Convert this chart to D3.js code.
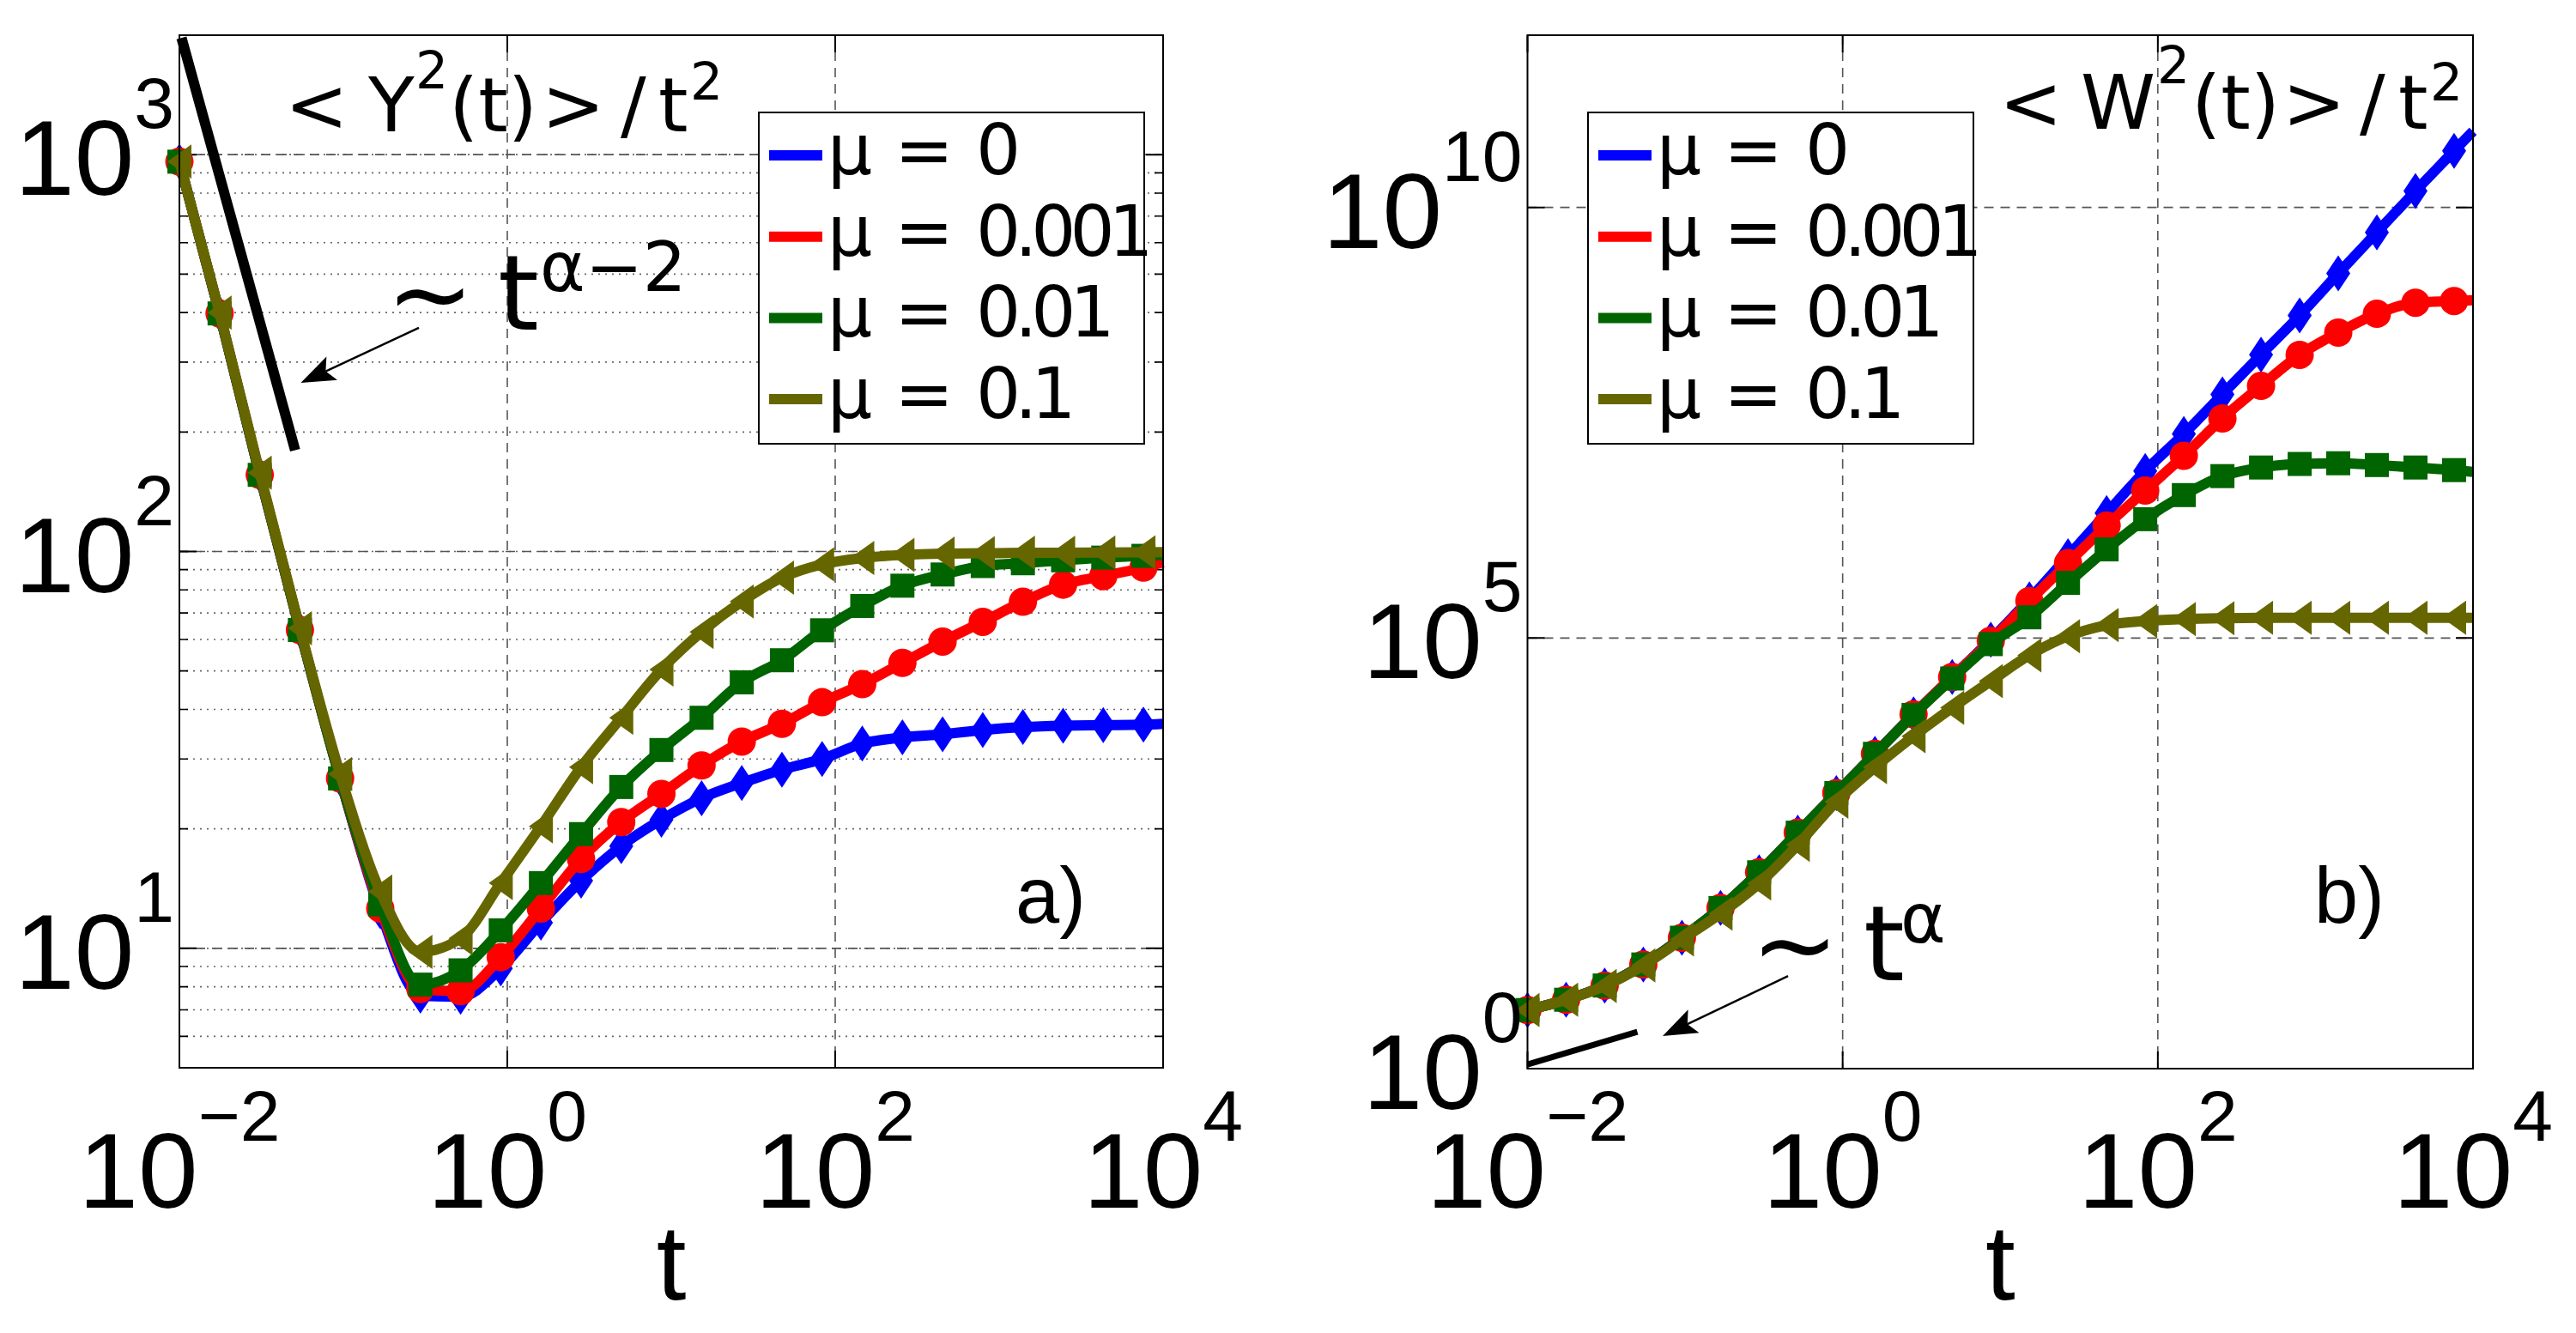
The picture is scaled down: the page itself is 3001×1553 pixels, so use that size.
<!DOCTYPE html>
<html><head><meta charset="utf-8">
<script src="https://cdn.jsdelivr.net/npm/d3@7"></script>
<style>body{margin:0;background:#fff}svg{display:block}</style>
</head><body>
<svg id="c" width="3001" height="1553"></svg>
<script>
// ---------------- data ----------------
const tValues = [0.01, 0.01758, 0.0309, 0.05433, 0.0955, 0.1679, 0.2951, 0.5188, 0.912, 1.603, 2.818, 4.955, 8.71, 15.31, 26.92, 47.32, 83.18, 146.2, 257.0, 451.9, 794.3, 1396, 2455, 4315, 7586, 10000];
const markerCount = 25; // last t value carries the line only

const seriesLabels = ["μ = 0", "μ = 0.001", "μ = 0.01", "μ = 0.1"];
const seriesColors = ["#0000ff", "#ff0000", "#006400", "#666600"];
const seriesMarkers = ["diamond", "circle", "square", "triangleLeft"];

// panel a) <Y^2(t)>/t^2
const yA_mu0    = [960, 398, 156, 63.4, 26.8, 12.4, 7.6, 7.55, 8.9, 11.6, 14.8, 18.1, 21.1, 23.9, 26.1, 28.2, 30.0, 32.8, 34.0, 34.6, 35.5, 36.1, 36.4, 36.5, 36.6, 36.8];
const yA_mu0001 = [960, 398, 156, 63.4, 26.8, 12.6, 7.9, 7.8, 9.5, 12.6, 16.8, 20.8, 24.5, 28.9, 33.2, 36.8, 41.7, 46.3, 52.4, 59.3, 66.5, 74.7, 82.5, 86.7, 91.1, 94];
const yA_mu001  = [960, 398, 156, 63.4, 26.8, 12.9, 8.1, 8.8, 11.1, 14.6, 19.4, 25.5, 31.6, 38.1, 46.8, 53.2, 63.3, 72.9, 82, 87.5, 91.9, 93.4, 95, 96.5, 97.5, 98];
const yA_mu01   = [960, 400, 158, 64, 27.5, 13.9, 9.8, 10.6, 14.6, 20.3, 28.6, 38.1, 50.4, 62.7, 74.8, 85.9, 92.8, 96.3, 98, 98.8, 99, 99.2, 99.3, 99.4, 99.5, 99.6];

// panel b) <W^2(t)>/t^2
const yB_mu0    = [4.79, 6.31, 9.23, 16.2, 33.1, 73.3, 190.5, 549.5, 1585, 4519, 1.30e4, 3.53e4, 9.55e4, 2.82e5, 8.91e5, 2.82e6, 8.71e6, 2.34e7, 6.76e7, 1.95e8, 5.56e8, 1.71e9, 5.14e9, 1.55e10, 4.54e10, 7.69e10];
const yB_mu0001 = [4.79, 6.31, 9.23, 16.2, 33.1, 73.3, 190.5, 549.5, 1585, 4519, 1.30e4, 3.53e4, 9.3e4, 2.69e5, 7.41e5, 2.02e6, 5.16e6, 1.31e7, 3.55e7, 8.47e7, 1.94e8, 3.52e8, 5.82e8, 7.83e8, 8.20e8, 8.39e8];
const yB_mu001  = [4.79, 6.31, 9.23, 16.2, 33.1, 73.3, 190.5, 549.5, 1585, 4519, 1.28e4, 3.39e4, 8.5e4, 1.74e5, 4.37e5, 1.07e6, 2.40e6, 4.57e6, 7.59e6, 9.55e6, 1.05e7, 1.07e7, 1.02e7, 9.55e6, 8.91e6, 8.51e6];
const yB_mu01   = [4.79, 6.31, 9.12, 15.8, 31.6, 63.1, 141, 398, 1259, 3162, 7244, 1.55e4, 3.16e4, 6.31e4, 1.05e5, 1.41e5, 1.58e5, 1.66e5, 1.70e5, 1.72e5, 1.72e5, 1.72e5, 1.72e5, 1.72e5, 1.72e5, 1.72e5];

const xTickExponents = [-2, 0, 2, 4];
const yTickExponentsA = [1, 2, 3];
const yTickExponentsB = [0, 5, 10];

// guide lines (t, value) and annotation arrows
const guideA_t = [0.0103, 0.0508], guideA_v = [1970, 180];
const guideB_t = [0.01, 0.0498],   guideB_v = [1.12, 2.68];
const arrowA_t = [0.289, 0.055],   arrowA_v = [366, 266];
const arrowB_t = [0.45, 0.0721],   arrowB_v = [11.9, 2.39];

// ---------------- drawing ----------------
const svg = d3.select("#c");
const TICK_FONT = "'Liberation Sans', Arial, Helvetica, sans-serif";
const TEXT_FONT = "'DejaVu Sans', sans-serif";

function markerPath(type) {
  if (type === "diamond") return "M0,-21L14,0L0,21L-14,0Z";
  if (type === "square") return "M-14,-14H14V14H-14Z";
  if (type === "triangleLeft") return "M-14,0L14,-20L14,20Z";
  return d3.symbol(d3.symbolCircle, Math.PI * 16.5 * 16.5)();
}

function drawArrow(g, x1, y1, x2, y2) {
  const ang = Math.atan2(y2 - y1, x2 - x1);
  const L = 40, W = 15;
  const bx = x2 - L * Math.cos(ang), by = y2 - L * Math.sin(ang);
  g.append("line").attr("x1", x1).attr("y1", y1).attr("x2", bx + 8 * Math.cos(ang)).attr("y2", by + 8 * Math.sin(ang))
    .attr("stroke", "#000").attr("stroke-width", 2.5);
  const px = -Math.sin(ang), py = Math.cos(ang);
  const nx = x2 - (L - 8) * Math.cos(ang), ny = y2 - (L - 8) * Math.sin(ang);
  g.append("path")
    .attr("d", `M${x2},${y2}L${bx + W * px},${by + W * py}L${nx},${ny}L${bx - W * px},${by - W * py}Z`)
    .attr("fill", "#000");
}

function powLabel(g, x, y, exp, anchor) {
  const t = g.append("text").attr("x", x).attr("y", y)
    .attr("text-anchor", anchor).attr("font-family", TICK_FONT).attr("fill", "#000");
  t.append("tspan").attr("font-size", 125).text("10");
  t.append("tspan").attr("font-size", 84).attr("dy", -78).text(String(exp).replace("-", "−"));
}

function drawPanel(cfg) {
  const g = svg.append("g");
  const x = d3.scaleLog().domain([1e-2, 1e4]).range([cfg.left, cfg.right]);
  const y = d3.scaleLog().domain(cfg.yDomain).range([cfg.bottom, cfg.top]);

  // minor grid (dotted)
  if (cfg.minorGrid) {
    const minor = [];
    for (let d = Math.floor(Math.log10(cfg.yDomain[0])); d <= Math.ceil(Math.log10(cfg.yDomain[1])); d++)
      for (let m = 1; m <= 9; m++) {
        const v = m * Math.pow(10, d);
        if (v > cfg.yDomain[0] * 1.001 && v < cfg.yDomain[1] * 0.999) minor.push(v);
      }
    g.selectAll(".mg").data(minor).enter().append("line")
      .attr("x1", cfg.left).attr("x2", cfg.right)
      .attr("y1", d => y(d)).attr("y2", d => y(d))
      .attr("stroke", "#666").attr("stroke-width", 1.6).attr("stroke-dasharray", "2,6");
    g.selectAll(".mt").data(minor).enter().append("path")
      .attr("d", d => `M${cfg.left},${y(d)}h10M${cfg.right},${y(d)}h-10`)
      .attr("stroke", "#000").attr("stroke-width", 1.6);
  }
  // major grid (dashed)
  const gx = [1e0, 1e2];
  g.selectAll(".gx").data(gx).enter().append("line")
    .attr("x1", d => x(d)).attr("x2", d => x(d)).attr("y1", cfg.top).attr("y2", cfg.bottom)
    .attr("stroke", "#555").attr("stroke-width", 1.6).attr("stroke-dasharray", "11,8");
  const gy = cfg.yTicks.map(e => Math.pow(10, e)).filter(v => v > cfg.yDomain[0] * 1.001 && v < cfg.yDomain[1] * 0.999);
  g.selectAll(".gy").data(gy).enter().append("line")
    .attr("x1", cfg.left).attr("x2", cfg.right).attr("y1", d => y(d)).attr("y2", d => y(d))
    .attr("stroke", "#555").attr("stroke-width", 1.6).attr("stroke-dasharray", "11,8");
  // major ticks
  g.selectAll(".tx").data(xTickExponents).enter().append("path")
    .attr("d", e => `M${x(Math.pow(10, e))},${cfg.bottom}v-20M${x(Math.pow(10, e))},${cfg.top}v20`)
    .attr("stroke", "#000").attr("stroke-width", 2);
  g.selectAll(".ty").data(gy).enter().append("path")
    .attr("d", d => `M${cfg.left},${y(d)}h20M${cfg.right},${y(d)}h-20`)
    .attr("stroke", "#000").attr("stroke-width", 2);

  // series
  cfg.series.forEach((vals, i) => {
    const pts = tValues.map((t, k) => ({ t, v: vals[k] }));
    g.append("path").datum(pts)
      .attr("d", d3.line().x(d => x(d.t)).y(d => y(d.v)).curve(d3.curveMonotoneX))
      .attr("fill", "none").attr("stroke", seriesColors[i]).attr("stroke-width", 12)
      .attr("stroke-linejoin", "round");
    g.selectAll(".m" + i).data(pts.slice(0, markerCount)).enter().append("path")
      .attr("d", markerPath(seriesMarkers[i]))
      .attr("transform", d => `translate(${x(d.t)},${y(d.v)})`)
      .attr("fill", seriesColors[i]);
  });

  // guide line + arrow
  g.append("line")
    .attr("x1", x(cfg.guideT[0])).attr("y1", y(cfg.guideV[0]))
    .attr("x2", x(cfg.guideT[1])).attr("y2", y(cfg.guideV[1]))
    .attr("stroke", "#000").attr("stroke-width", cfg.guideWidth);
  drawArrow(g, x(cfg.arrowT[0]), y(cfg.arrowV[0]), x(cfg.arrowT[1]), y(cfg.arrowV[1]));

  // axes box
  g.append("rect").attr("x", cfg.left).attr("y", cfg.top)
    .attr("width", cfg.right - cfg.left).attr("height", cfg.bottom - cfg.top)
    .attr("fill", "none").attr("stroke", "#000").attr("stroke-width", 2);

  // tick labels
  xTickExponents.forEach(e => powLabel(g, x(Math.pow(10, e)), 1407, e, "middle"));
  cfg.yTicks.forEach(e => powLabel(g, cfg.left - 6, y(Math.pow(10, e)) + 47, e, "end"));

  // axis label
  g.append("text").attr("x", (cfg.left + cfg.right) / 2).attr("y", 1514)
    .attr("text-anchor", "middle").attr("font-family", TICK_FONT).attr("font-size", 125).text("t");

  // panel letter
  g.append("text").attr("x", cfg.letterX).attr("y", 1075)
    .attr("font-family", TICK_FONT).attr("font-size", 92).text(cfg.letter);

  // title
  const tt = g.append("text").attr("font-family", TEXT_FONT).attr("fill", "#000");
  cfg.title.forEach(p => tt.append("tspan").attr("x", p[1]).attr("y", p[2]).attr("font-size", p[3]).text(p[0]));

  // annotation
  const an = g.append("text").attr("font-family", TEXT_FONT).attr("fill", "#000");
  cfg.annot.forEach(p => an.append("tspan").attr("x", p[1]).attr("y", p[2]).attr("font-size", p[3]).text(p[0]));

  // legend
  const lg = g.append("g");
  lg.append("rect").attr("x", cfg.legendX).attr("y", 131).attr("width", 449).attr("height", 386)
    .attr("fill", "#fff").attr("stroke", "#000").attr("stroke-width", 2);
  seriesLabels.forEach((lab, i) => {
    const ly = 181 + i * 94.7;
    lg.append("line").attr("x1", cfg.legendX + 12).attr("x2", cfg.legendX + 74)
      .attr("y1", ly).attr("y2", ly).attr("stroke", seriesColors[i]).attr("stroke-width", 12);
    const tx = lg.append("text").attr("x", cfg.legendX + 80).attr("y", ly + 22)
      .attr("font-family", TEXT_FONT).attr("font-size", 82);
    const parts = lab.split("= ");
    tx.append("tspan").text(parts[0] + "= ");
    tx.append("tspan").attr("letter-spacing", -7).text(parts[1]);
  });
}

drawPanel({
  left: 209, right: 1355, top: 41, bottom: 1244,
  yDomain: [5, 2000], yTicks: yTickExponentsA, minorGrid: true,
  series: [yA_mu0, yA_mu0001, yA_mu001, yA_mu01],
  guideT: guideA_t, guideV: guideA_v, guideWidth: 12,
  arrowT: arrowA_t, arrowV: arrowA_v,
  letter: "a)", letterX: 1183,
  legendX: 884,
  title: [["<", 332, 153, 88], ["Y", 429, 153, 88], ["2", 484, 103, 60], ["(t)", 523, 153, 88],
          [">", 631, 153, 88], ["/", 723, 153, 88], ["t", 767, 153, 88], ["2", 804, 116, 60]],
  annot: [["~", 450, 384, 122], ["t", 580, 384, 122], ["α−2", 629, 339, 80]]
});

drawPanel({
  left: 1779.5, right: 2881, top: 41, bottom: 1245,
  yDomain: [1, 1e12], yTicks: yTickExponentsB, minorGrid: false,
  series: [yB_mu0, yB_mu0001, yB_mu001, yB_mu01],
  guideT: guideB_t, guideV: guideB_v, guideWidth: 7,
  arrowT: arrowB_t, arrowV: arrowB_v,
  letter: "b)", letterX: 2696,
  legendX: 1850,
  title: [["<", 2329, 150, 88], ["W", 2424, 150, 88], ["2", 2513, 97, 60], ["(t)", 2553, 150, 88],
          [">", 2659, 150, 88], ["/", 2749, 150, 88], ["t", 2794, 150, 88], ["2", 2831, 117, 60]],
  annot: [["~", 2040, 1142, 122], ["t", 2171, 1142, 122], ["α", 2214, 1098, 80]]
});
</script>
</body></html>
